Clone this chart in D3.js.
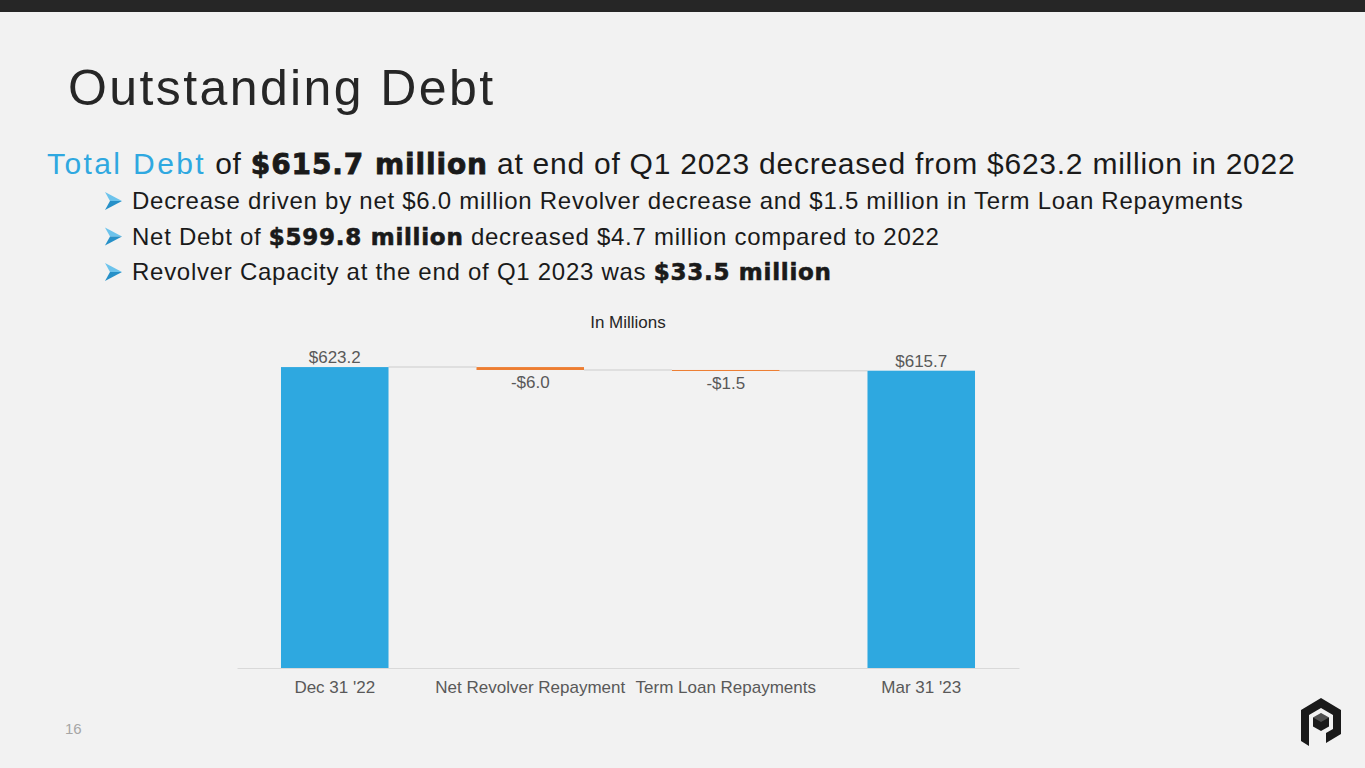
<!DOCTYPE html>
<html>
<head>
<meta charset="utf-8">
<script src="https://cdn.jsdelivr.net/npm/d3@7"></script>
<style>
  body { margin: 0; background: #f2f2f2; }
  svg { display: block; font-family: "Liberation Sans", Arial, sans-serif; }
</style>
</head>
<body>
<div id="chart"></div>
<script>
// waterfall data
const categories = ["Dec 31 '22", "Net Revolver Repayment", "Term Loan Repayments", "Mar 31 '23"];
const values = [623.2, -6.0, -1.5, 615.7];
const kinds = ["total", "delta", "delta", "total"];
const labels = ["$623.2", "-$6.0", "-$1.5", "$615.7"];

const W = 1365, H = 768;
const svg = d3.select('#chart').append('svg')
    .attr('width', W)
    .attr('height', H);

svg.append('rect').attr('width', W).attr('height', H).attr('fill', '#f2f2f2');
svg.append('rect').attr('width', W).attr('height', 12).attr('fill', '#262626');

const heavy = '"DejaVu Sans", sans-serif';

// title
svg.append('text')
    .attr('x', 68).attr('y', 105)
    .attr('font-size', 50)
    .attr('letter-spacing', 2.4)
    .attr('fill', '#262626')
    .text('Outstanding Debt');

// headline
const head = svg.append('text')
    .attr('x', 47).attr('y', 174)
    .attr('font-size', 30)
    .attr('letter-spacing', 0.75)
    .attr('fill', '#1a1a1a');
head.append('tspan').attr('fill', '#2fa8e0').attr('letter-spacing', 2.4).text('Total Debt');
head.append('tspan').text(' of ');
head.append('tspan')
    .attr('font-weight', 900).attr('font-family', heavy).attr('font-size', 28)
    .attr('letter-spacing', 0.9).attr('stroke', '#1a1a1a').attr('stroke-width', 0.8)
    .text('$615.7 million');
head.append('tspan').text(' at end of Q1 2023 decreased from $623.2 million in 2022');

// bullets
const bullets = [
  [['Decrease driven by net $6.0 million Revolver decrease and $1.5 million in Term Loan Repayments', false]],
  [['Net Debt of ', false], ['$599.8 million', true], [' decreased $4.7 million compared to 2022', false]],
  [['Revolver Capacity at the end of Q1 2023 was ', false], ['$33.5 million', true]]
];
bullets.forEach((parts, i) => {
  const y = 209 + i * 35.5;
  svg.append('path')
      .attr('d', `M105,${y - 17} L122,${y - 8} L110,${y - 8} Z`)
      .attr('fill', '#6cc3ec');
  svg.append('path')
      .attr('d', `M105,${y + 1} L122,${y - 8} L110,${y - 8} Z`)
      .attr('fill', '#2690c8');
  const t = svg.append('text')
      .attr('x', 132).attr('y', y)
      .attr('font-size', 24)
      .attr('letter-spacing', 0.73)
      .attr('fill', '#1a1a1a');
  parts.forEach(([s, b]) => {
    const ts = t.append('tspan').text(s);
    if (b) ts.attr('font-weight', 900).attr('font-family', heavy).attr('font-size', 23)
      .attr('stroke', '#1a1a1a').attr('stroke-width', 0.6);
  });
});

// chart
const x = d3.scaleBand()
    .domain(categories)
    .range([237, 1019])
    .paddingInner(0.45)
    .paddingOuter(0.225);

const y = d3.scaleLinear()
    .domain([0, 700])
    .range([668, 330]);

svg.append('text')
    .attr('x', 628).attr('y', 328)
    .attr('text-anchor', 'middle')
    .attr('font-size', 17)
    .attr('fill', '#262626')
    .text('In Millions');

// compute waterfall steps
let running = 0;
const steps = categories.map((c, i) => {
  let start, end;
  if (kinds[i] === 'total') { start = 0; end = values[i]; running = values[i]; }
  else { start = running; end = running + values[i]; running = end; }
  return { c, start, end, kind: kinds[i], label: labels[i] };
});

// connectors
const g = svg.append('g');
steps.slice(0, -1).forEach((s, i) => {
  const n = steps[i + 1];
  g.append('line')
      .attr('x1', x(s.c) + x.bandwidth())
      .attr('x2', x(n.c))
      .attr('y1', y(s.end))
      .attr('y2', y(s.end))
      .attr('stroke', '#d9d9d9')
      .attr('stroke-width', 1.5);
});

g.selectAll('rect.bar')
  .data(steps)
  .join('rect')
    .attr('class', 'bar')
    .attr('x', d => x(d.c))
    .attr('width', x.bandwidth())
    .attr('y', d => y(Math.max(d.start, d.end)))
    .attr('height', d => Math.max(1, Math.abs(y(d.start) - y(d.end))))
    .attr('fill', d => d.kind === 'total' ? '#2ea8e0' : '#ed7d31');

g.selectAll('text.val')
  .data(steps)
  .join('text')
    .attr('class', 'val')
    .attr('x', d => x(d.c) + x.bandwidth() / 2)
    .attr('y', d => d.kind === 'total' ? y(Math.max(d.start, d.end)) - 4 : y(Math.min(d.start, d.end)) + 18)
    .attr('text-anchor', 'middle')
    .attr('font-size', 17)
    .attr('fill', '#595959')
    .text(d => d.label);

// axis
const axis = svg.append('g')
    .attr('transform', `translate(0,${y(0)})`)
    .call(d3.axisBottom(x).tickSize(0).tickPadding(13));
axis.select('.domain').attr('stroke', '#d9d9d9').attr('stroke-width', 1.2);
axis.selectAll('text')
    .attr('font-size', 17)
    .attr('font-family', '"Liberation Sans", Arial, sans-serif')
    .attr('fill', '#595959');

// page number
svg.append('text')
    .attr('x', 65).attr('y', 734)
    .attr('font-size', 15)
    .attr('fill', '#a6a6a6')
    .text('16');

// logo
const logo = svg.append('g').attr('transform', 'translate(1321,722)').attr('fill', '#1a1a1a');
logo.append('path')
    .attr('d', 'M0,-24 L20,-12 L20,12 L5,21 L5,11 L12,7 L12,-7 L0,-14 L-12,-7 L-12,24 L-20,19 L-20,-12 Z');
logo.append('path')
    .attr('d', 'M0,-9 L8,-4.5 L8,4.5 L0,9 L-8,4.5 L-8,-4.5 Z');
logo.append('path')
    .attr('d', 'M0,-9 L8,-4.5 L0,0 L-8,-4.5 Z').attr('fill', '#f2f2f2').attr('opacity', 0.25);
</script>
</body>
</html>
